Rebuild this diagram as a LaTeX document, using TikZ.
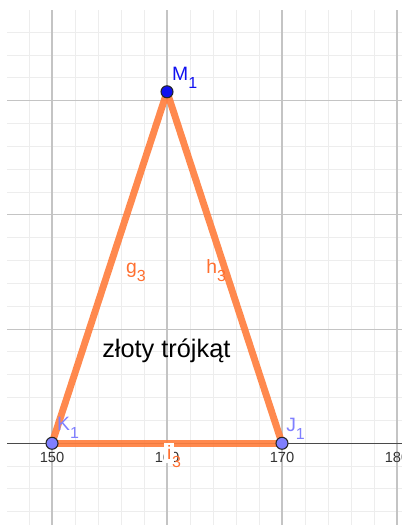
\documentclass[tikz,border=0pt]{standalone}
\usepackage{fontspec}
\setmainfont{Liberation Sans}
\usepackage{xcolor}
\definecolor{seg}{HTML}{FF7F3F}
\definecolor{segtxt}{HTML}{FF6F2F}
\definecolor{ptfree}{HTML}{7F7FFF}
\definecolor{ptdep}{HTML}{1010F0}
\definecolor{gridmin}{HTML}{EDEDED}
\definecolor{gridmaj}{HTML}{C4C4C4}
\definecolor{axisc}{HTML}{4A4A4A}
\definecolor{tick}{HTML}{333333}
\newcommand{\idx}[1]{\raisebox{-6pt}{\fontsize{12}{13}\selectfont #1}}
\tikzset{
  gmin/.style={draw=gridmin, line width=0.75pt},
  gmaj/.style={draw=gridmaj, line width=0.9pt},
  ax/.style={draw=axisc, line width=1.1pt},
  side/.style={draw=seg, line width=5.2pt, line cap=round, opacity=0.92},
  pt/.style={circle, draw=black!85, line width=0.8pt, minimum size=9pt, inner sep=0pt},
  lbl/.style={anchor=base west, inner sep=0pt, font=\fontsize{14.5}{15}\selectfont},
  ticklbl/.style={anchor=base, inner sep=0pt, text=tick, font=\fontsize{11}{12}\selectfont},
}

\begin{document}
\begin{tikzpicture}[x=8.625pt, y=8.565pt]
\useasboundingbox (-4.522,-7.154) rectangle (30.783,38.818);

% grid and axis
\begin{scope}
\clip (-3.913,-7.154) rectangle (30.43,37.855);
\foreach \x in {-2,2,4,6,8,12,14,16,18,22,24,26,28}
  \draw[gmin] (\x,-7.2) -- (\x,37.9);
\foreach \y in {-6,-4,-2,2,4,6,8,12,14,16,18,22,24,26,28,32,34,36}
  \draw[gmin] (-4,\y) -- (30.5,\y);
\foreach \x in {0,10,20,30}
  \draw[gmaj] (\x,-7.2) -- (\x,37.9);
\foreach \y in {10,20,30}
  \draw[gmaj] (-4,\y) -- (30.5,\y);
\draw[ax] (-4,0) -- (30.5,0);
\foreach \x/\v in {0/150,10/160,20/170,30/180}
  \node[ticklbl] (t\v) at (\x,-1.64) {\v};
\end{scope}

\coordinate (K) at (0,0);
\coordinate (J) at (20,0);
\coordinate (M) at (10,30.78);

% sides
\draw[side] (K) -- (J);
\draw[side] (K) -- (M);
\draw[side] (J) -- (M);

\node[pt, fill=ptfree] (K1) at (K) {};
\node[pt, fill=ptfree] (J1) at (J) {};
\node[pt, fill=ptdep] (M1) at (M) {};

\node[lbl, text=ptdep] (lM) at (10.43,31.81) {M\idx{1}};
\node[lbl, text=ptfree] (lK) at (0.43,1.08) {K\idx{1}};
\node[lbl, text=ptfree] (lJ) at (20.35,0.99) {J\idx{1}};
\node[lbl, text=segtxt] (lg) at (6.43,14.91) {g\idx{3}};
\node[lbl, text=segtxt] (lh) at (13.39,14.91) {h\idx{3}};
\node[lbl, text=segtxt] (li) at (9.75,-1.46) {{\fboxsep=2pt\colorbox{white}{i}}\kern-1.5pt\idx{3}};

\node[anchor=base west, inner sep=0pt, font=\fontsize{19}{20}\selectfont] (title) at (4.35,7.47) {złoty trójkąt};
\end{tikzpicture}
\end{document}
